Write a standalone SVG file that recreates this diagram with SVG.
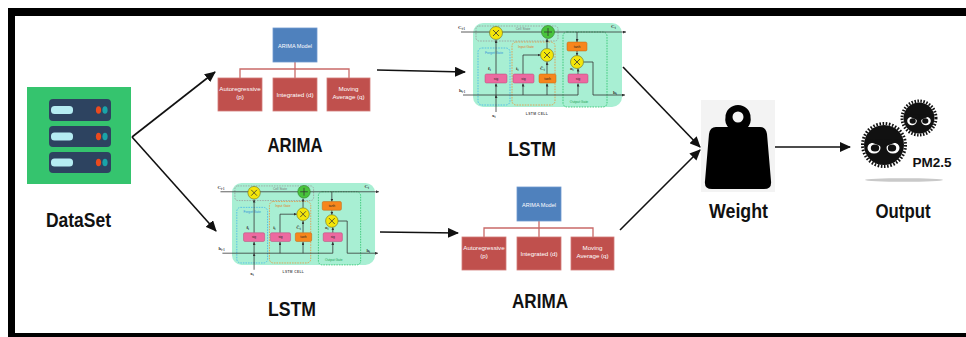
<svg xmlns="http://www.w3.org/2000/svg" width="966" height="337" viewBox="0 0 966 337">
  <style>
    .lbl { font-family: "Liberation Sans", Arial, sans-serif; font-weight: bold; font-size: 20px; fill: #111; text-anchor: middle; }
    .flow { fill: none; stroke: #111; stroke-width: 1.6; marker-end: url(#head); }
    .arima-link { fill: none; stroke: #c96a68; stroke-width: 1.3; }
    .arima-model { fill: #4f81bd; stroke: #6f9ad0; stroke-width: 0.8; }
    .arima-part { fill: #c0504d; stroke: #d37a78; stroke-width: 0.8; }
    .arima-t { font-family: "Liberation Sans", Arial, sans-serif; font-size: 6.2px; fill: #fff; text-anchor: middle; }
    .cell-bg { fill: #a8efd3; }
    .wire { fill: none; stroke: #333; stroke-width: 0.8; }
    .wire-a { fill: none; stroke: #333; stroke-width: 0.8; marker-end: url(#tip); }
    .sig { fill: #ec6aa0; stroke: #b8477a; stroke-width: 0.5; }
    .tanh { fill: #f7861c; stroke: #c0650f; stroke-width: 0.5; }
    .mul { fill: #f3e60a; stroke: #6b6b20; stroke-width: 0.6; }
    .add { fill: #48c43c; stroke: #2c7a24; stroke-width: 0.6; }
    .tiny { font-family: "Liberation Sans", Arial, sans-serif; font-size: 3.4px; text-anchor: middle; }
    .sym { font-family: "Liberation Serif", "Times New Roman", serif; font-size: 5px; font-weight: bold; fill: #333; }
    .gate { fill: none; stroke-width: 0.8; stroke-dasharray: 1.6 1.1; }
    .pm { font-size: 13.5px; }
  </style>
  <defs>
    <marker id="head" markerUnits="userSpaceOnUse" markerWidth="11" markerHeight="10" refX="10" refY="5" orient="auto">
      <path d="M0,0 L11,5 L0,10 Z" fill="#111"/>
    </marker>
    <marker id="tip" markerUnits="userSpaceOnUse" markerWidth="3" markerHeight="3" refX="3" refY="1.5" orient="auto">
      <path d="M0,0 L3,1.5 L0,3 Z" fill="#333"/>
    </marker>

    <!-- ARIMA decomposition chart: model box over its three parts -->
    <g id="arima-chart">
      <path class="arima-link" d="M77,34 V41 M22,50 V41 H131 V50 M77,41 V50"/>
      <rect class="arima-model" x="55" y="0" width="44" height="34"/>
      <text class="arima-t" x="77" y="19.5" textLength="34" lengthAdjust="spacingAndGlyphs">ARIMA Model</text>
      <rect class="arima-part" x="0" y="50" width="44" height="33"/>
      <text class="arima-t" x="22" y="63">Autoregressive</text>
      <text class="arima-t" x="22" y="71">(p)</text>
      <rect class="arima-part" x="55" y="50" width="44" height="33"/>
      <text class="arima-t" x="77" y="68.5">Integrated (d)</text>
      <rect class="arima-part" x="109" y="50" width="43" height="33"/>
      <text class="arima-t" x="130.5" y="63">Moving</text>
      <text class="arima-t" x="130.5" y="71">Average (q)</text>
    </g>

    <!-- LSTM cell schematic -->
    <g id="lstm-cell">
      <rect class="cell-bg" x="0" y="0" width="149" height="84" rx="10"/>
      <rect class="gate" x="3" y="3" width="82" height="15" rx="3" stroke="#9a9a9a"/>
      <text class="tiny" x="50" y="7" fill="#777">Cell State</text>
      <rect class="gate" x="5" y="25" width="32" height="57" rx="4" stroke="#3fb4ea"/>
      <text class="tiny" x="21" y="31" fill="#2f8fd8">Forget Gate</text>
      <rect class="gate" x="39" y="19" width="43" height="63" rx="4" stroke="#e8923a"/>
      <text class="tiny" x="53" y="25" fill="#e07a1a">Input Gate</text>
      <rect class="gate" x="90" y="9" width="44" height="75" rx="4" stroke="#27c267"/>
      <text class="tiny" x="106" y="80" fill="#1f9e52">Output Gate</text>

      <!-- cell state and hidden state wiring -->
      <path class="wire-a" d="M-12,9 H153"/>
      <path class="wire" d="M-10,72 H105"/>
      <path class="wire-a" d="M23,72 V60.5"/>
      <path class="wire-a" d="M50,72 V60.5"/>
      <path class="wire-a" d="M74,72 V60.5"/>
      <path class="wire-a" d="M105,72 V60.5"/>
      <path class="wire-a" d="M23,89 V72"/>
      <path class="wire-a" d="M23,51 V17"/>
      <path class="wire-a" d="M50,51 V32 H67.5"/>
      <path class="wire-a" d="M74,51 V39"/>
      <path class="wire-a" d="M74,25.5 V16"/>
      <path class="wire-a" d="M104,9 V19"/>
      <path class="wire-a" d="M104,28 V32.5"/>
      <path class="wire-a" d="M105,51 V45.5"/>
      <path class="wire-a" d="M110.5,39 H120 V72 H152"/>

      <!-- activation blocks -->
      <rect class="sig" x="12" y="51" width="22" height="9" rx="1.5"/>
      <text class="tiny" x="23" y="56.8" fill="#222">sig</text>
      <rect class="sig" x="40" y="51" width="21" height="9" rx="1.5"/>
      <text class="tiny" x="50.5" y="56.8" fill="#222">sig</text>
      <rect class="tanh" x="66" y="51" width="17" height="9" rx="1.5"/>
      <text class="tiny" x="74.5" y="56.8" fill="#222">tanh</text>
      <rect class="sig" x="95" y="51" width="20" height="9" rx="1.5"/>
      <text class="tiny" x="105" y="56.8" fill="#222">sig</text>
      <rect class="tanh" x="94" y="19" width="20" height="9" rx="1.5"/>
      <text class="tiny" x="104" y="24.8" fill="#222">tanh</text>

      <!-- pointwise operations -->
      <circle class="mul" cx="23" cy="10" r="6.5"/>
      <path class="wire" d="M20,7 L26,13 M26,7 L20,13"/>
      <circle class="add" cx="75" cy="9" r="6.5"/>
      <path class="wire" d="M75,5 V13 M71,9 H79"/>
      <circle class="mul" cx="74" cy="32" r="6.5"/>
      <path class="wire" d="M71,29 L77,35 M77,29 L71,35"/>
      <circle class="mul" cx="104" cy="39" r="6.5"/>
      <path class="wire" d="M101,36 L107,42 M107,36 L101,42"/>

      <!-- signal names -->
      <text class="sym" x="-15" y="6">C<tspan font-size="3" dy="1">t-1</tspan></text>
      <text class="sym" x="138" y="5">C<tspan font-size="3" dy="1">t</tspan></text>
      <text class="sym" x="15" y="47">f<tspan font-size="3" dy="1">t</tspan></text>
      <text class="sym" x="43" y="47">i<tspan font-size="3" dy="1">t</tspan></text>
      <text class="sym" x="67" y="47">C̃<tspan font-size="3" dy="1">t</tspan></text>
      <text class="sym" x="97" y="47">o<tspan font-size="3" dy="1">t</tspan></text>
      <text class="sym" x="-14" y="69">h<tspan font-size="3" dy="1">t-1</tspan></text>
      <text class="sym" x="140" y="71">h<tspan font-size="3" dy="1">t</tspan></text>
      <text class="sym" x="19" y="94">x<tspan font-size="3" dy="1">t</tspan></text>
      <text class="tiny" x="64" y="92" fill="#555" font-weight="bold" letter-spacing="0.4">LSTM CELL</text>
    </g>
  </defs>

  <rect width="966" height="337" fill="#fff"/>

  <!-- frame -->
  <g id="frame" fill="#000">
    <rect x="8" y="8" width="958" height="8"/>
    <rect x="8" y="8" width="7" height="329"/>
    <rect x="8" y="333" width="958" height="4"/>
  </g>

  <!-- connectors -->
  <g id="connectors">
    <path class="flow" d="M132,137 L215,72"/>
    <path class="flow" d="M132,137 L216,231"/>
    <path class="flow" d="M377,70 L465,72"/>
    <path class="flow" d="M380,232 L458,233"/>
    <path class="flow" d="M623,67 L700,147"/>
    <path class="flow" d="M620,230 L700,150"/>
    <path class="flow" d="M775,147 L850,147"/>
  </g>

  <!-- dataset -->
  <g id="dataset">
    <rect x="27" y="87" width="104" height="97" fill="#35c46e"/>
    <g fill="#2d4360">
      <rect x="49" y="99" width="62" height="22" rx="4"/>
      <rect x="49" y="126" width="62" height="21" rx="4"/>
      <rect x="49" y="152" width="62" height="21" rx="4"/>
    </g>
    <g fill="#b5ecf2">
      <rect x="51" y="106" width="22" height="8" rx="3.5"/>
      <rect x="51" y="132.5" width="22" height="8" rx="3.5"/>
      <rect x="51" y="158.5" width="22" height="8" rx="3.5"/>
    </g>
    <g fill="#ea4a1e">
      <ellipse cx="98.5" cy="110" rx="2.6" ry="3.8"/>
      <ellipse cx="98.5" cy="136.5" rx="2.6" ry="3.8"/>
      <ellipse cx="98.5" cy="162.5" rx="2.6" ry="3.8"/>
    </g>
    <g fill="#1aa3a8">
      <ellipse cx="105" cy="110" rx="2.6" ry="3.8"/>
      <ellipse cx="105" cy="136.5" rx="2.6" ry="3.8"/>
      <ellipse cx="105" cy="162.5" rx="2.6" ry="3.8"/>
    </g>
    <text class="lbl" x="78.5" y="227" textLength="65" lengthAdjust="spacingAndGlyphs">DataSet</text>
  </g>

  <!-- upper branch -->
  <g id="arima-top">
    <use href="#arima-chart" x="218" y="28"/>
    <text class="lbl" x="295" y="152" textLength="55" lengthAdjust="spacingAndGlyphs">ARIMA</text>
  </g>
  <g id="lstm-top">
    <use href="#lstm-cell" transform="translate(473,23)"/>
    <text class="lbl" x="532" y="156" textLength="48" lengthAdjust="spacingAndGlyphs">LSTM</text>
  </g>

  <!-- lower branch -->
  <g id="lstm-bottom">
    <use href="#lstm-cell" transform="translate(232,183) scale(0.96,0.975)"/>
    <text class="lbl" x="292" y="316" textLength="48" lengthAdjust="spacingAndGlyphs">LSTM</text>
  </g>
  <g id="arima-bottom">
    <use href="#arima-chart" x="462" y="187"/>
    <text class="lbl" x="540" y="308" textLength="56" lengthAdjust="spacingAndGlyphs">ARIMA</text>
  </g>

  <!-- weighting -->
  <g id="weight">
    <rect x="701" y="100" width="74" height="92" fill="#f3f3f3"/>
    <path fill="#000" fill-rule="evenodd" d="M738,105 A12.5,12 0 0 1 750.5,117 A12,12 0 0 1 747,128 H729 A12,12 0 0 1 725.5,117 A12.5,12 0 0 1 738,105 Z M738,111.5 A5.5,5.5 0 1 0 738,122.5 A5.5,5.5 0 1 0 738,111.5 Z"/>
    <path fill="#000" d="M716,127 H760 Q766,127 767,134 L771,181 Q772,189 764,189 H712 Q704,189 705,181 L709,134 Q710,127 716,127 Z"/>
    <text class="lbl" x="738.5" y="218" textLength="59" lengthAdjust="spacingAndGlyphs">Weight</text>
  </g>

  <!-- output -->
  <g id="output">
    <ellipse cx="904" cy="180" rx="39" ry="1.8" fill="#c9c9c9"/>
    <circle cx="919" cy="118" r="15.5" fill="#111"/>
    <circle cx="919" cy="118" r="17" fill="none" stroke="#111" stroke-width="3" stroke-dasharray="1.5 1.5"/>
    <circle cx="884" cy="145" r="20" fill="#111"/>
    <circle cx="884" cy="145" r="21.5" fill="none" stroke="#111" stroke-width="3" stroke-dasharray="1.6 1.6"/>
    <!-- eyes -->
    <ellipse cx="874" cy="148" rx="6.5" ry="5.5" fill="#fff"/>
    <ellipse cx="875" cy="148" rx="4.2" ry="3.6" fill="#111"/>
    <path d="M865,140 L883,147 L883,139 Z" fill="#111"/>
    <ellipse cx="893" cy="148" rx="6.5" ry="5.5" fill="#fff"/>
    <ellipse cx="892" cy="148" rx="4.2" ry="3.6" fill="#111"/>
    <path d="M884,147 L902,140 L884,139 Z" fill="#111"/>
    <ellipse cx="912" cy="121" rx="4.8" ry="4.2" fill="#fff"/>
    <ellipse cx="912.7" cy="121" rx="3.1" ry="2.7" fill="#111"/>
    <path d="M905.5,115 L918.5,120.5 L918.5,114 Z" fill="#111"/>
    <ellipse cx="926" cy="121" rx="4.8" ry="4.2" fill="#fff"/>
    <ellipse cx="925.3" cy="121" rx="3.1" ry="2.7" fill="#111"/>
    <path d="M919.5,120.5 L932.5,115 L919.5,114 Z" fill="#111"/>
    <text class="lbl pm" x="932" y="167">PM2.5</text>
    <text class="lbl" x="903" y="218" textLength="55" lengthAdjust="spacingAndGlyphs">Output</text>
  </g>
</svg>
